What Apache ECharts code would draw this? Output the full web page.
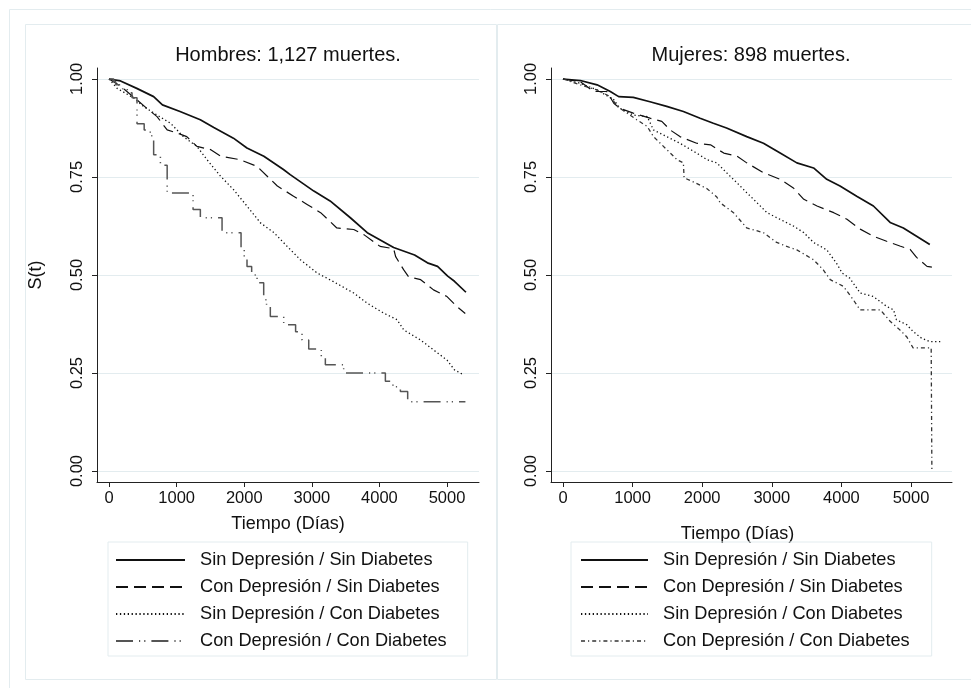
<!DOCTYPE html>
<html>
<head>
<meta charset="utf-8">
<title>Supervivencia</title>
<script src="https://cdn.jsdelivr.net/npm/echarts@6.0.0/dist/echarts.min.js"></script>
<style>
  html, body { margin: 0; padding: 0; background: #fff; }
  #chart { width: 971px; height: 688px; }
</style>
</head>
<body>
<div id="chart"></div>
<script>
// nombres de los grupos (leyenda)
const grupos = [
  'Sin Depresión / Sin Diabetes',
  'Con Depresión / Sin Diabetes',
  'Sin Depresión / Con Diabetes',
  'Con Depresión / Con Diabetes'
]
const titulos = ['Hombres: 1,127 muertes.', 'Mujeres: 898 muertes.']
const ticksX = [0, 1000, 2000, 3000, 4000, 5000]
const ticksY = [0, 0.25, 0.5, 0.75, 1]

// Hombres: [tiempo (días), S(t)]
const hombresSS = [[0,1],[170,0.995],[410,0.976],[660,0.955],[790,0.934],[1050,0.917],[1350,0.896],[1550,0.876],[1840,0.849],[2040,0.824],[2290,0.803],[2580,0.769],[2680,0.756],[3030,0.714],[3270,0.689],[3570,0.646],[3820,0.608],[4210,0.570],[4520,0.551],[4710,0.531],[4860,0.522],[5010,0.497],[5110,0.484],[5280,0.456]]
const hombresCS = [[0,1],[170,0.982],[410,0.947],[560,0.925],[710,0.904],[860,0.870],[1010,0.862],[1150,0.853],[1300,0.828],[1500,0.820],[1650,0.803],[1940,0.794],[2190,0.777],[2340,0.752],[2490,0.727],[2730,0.701],[2930,0.680],[3130,0.659],[3370,0.620],[3620,0.616],[3770,0.603],[4010,0.573],[4210,0.567],[4240,0.547],[4360,0.513],[4430,0.496],[4610,0.488],[4800,0.462],[5000,0.445],[5150,0.419],[5270,0.402]]
const hombresSC = [[0,1],[120,0.976],[370,0.951],[510,0.930],[710,0.908],[910,0.887],[1100,0.853],[1300,0.828],[1450,0.794],[1650,0.752],[1840,0.718],[2040,0.676],[2240,0.633],[2440,0.608],[2630,0.574],[2830,0.539],[3080,0.505],[3320,0.483],[3620,0.454],[3820,0.428],[4060,0.403],[4260,0.386],[4360,0.360],[4610,0.334],[4800,0.309],[5000,0.283],[5110,0.258],[5250,0.245]]
const hombresCC = [[0,1],[70,0.993],[100,0.985],[200,0.975],[270,0.965],[340,0.952],[414,0.886],[520,0.870],[610,0.855],[660,0.807],[760,0.780],[860,0.709],[1243,0.667],[1351,0.646],[1672,0.608],[1953,0.565],[2000,0.545],[2041,0.522],[2110,0.500],[2190,0.480],[2288,0.437],[2330,0.420],[2386,0.394],[2584,0.373],[2760,0.355],[2855,0.334],[2954,0.311],[3140,0.290],[3200,0.271],[3471,0.250],[4088,0.229],[4200,0.215],[4310,0.203],[4418,0.177],[5272,0.177]]

// Mujeres: [tiempo (días), S(t)]
const mujeresSS = [[0,1],[250,0.996],[490,0.985],[680,0.968],[800,0.955],[1010,0.953],[1250,0.942],[1490,0.930],[1730,0.917],[1970,0.900],[2160,0.887],[2350,0.875],[2640,0.853],[2880,0.836],[3120,0.811],[3360,0.786],[3600,0.773],[3790,0.744],[3980,0.727],[4220,0.701],[4460,0.676],[4700,0.634],[4890,0.620],[5080,0.599],[5270,0.578]]
const mujeresCS = [[0,1],[250,0.993],[440,0.968],[630,0.968],[730,0.938],[820,0.925],[1010,0.913],[1250,0.900],[1420,0.892],[1540,0.870],[1680,0.853],[1920,0.836],[2120,0.832],[2310,0.811],[2500,0.803],[2640,0.786],[2880,0.761],[3120,0.744],[3310,0.722],[3460,0.693],[3650,0.676],[3890,0.659],[4080,0.642],[4270,0.617],[4460,0.599],[4650,0.586],[4840,0.574],[4990,0.565],[5080,0.545],[5230,0.522],[5300,0.520]]
const mujeresSC = [[0,1],[250,0.989],[490,0.972],[730,0.947],[820,0.925],[1010,0.908],[1210,0.904],[1300,0.870],[1490,0.853],[1680,0.836],[1920,0.811],[2070,0.794],[2210,0.786],[2350,0.761],[2500,0.735],[2640,0.710],[2790,0.684],[2930,0.659],[3120,0.642],[3310,0.625],[3460,0.608],[3600,0.583],[3790,0.564],[3930,0.530],[4010,0.505],[4120,0.492],[4270,0.454],[4460,0.445],[4650,0.420],[4750,0.411],[4790,0.386],[4940,0.373],[5030,0.356],[5150,0.339],[5270,0.330],[5420,0.330]]
const mujeresCC = [[0,1],[250,0.985],[490,0.972],[680,0.955],[780,0.930],[920,0.913],[1060,0.896],[1210,0.879],[1300,0.853],[1490,0.820],[1640,0.794],[1730,0.786],[1740,0.748],[1880,0.737],[2070,0.720],[2210,0.699],[2260,0.684],[2450,0.659],[2640,0.620],[2880,0.608],[3070,0.583],[3260,0.570],[3360,0.564],[3600,0.539],[3740,0.513],[3840,0.488],[4030,0.471],[4170,0.437],[4270,0.411],[4560,0.411],[4700,0.382],[4840,0.360],[4940,0.342],[5030,0.314],[5290,0.314],[5300,0]]

const fuente = 'Liberation Sans, Arial, sans-serif'
const gris = '#e3ecef'
const estilos = [
  { width: 1.7, type: 'solid', color: '#111' },
  { width: 1.2, type: [12, 6], color: '#111' },
  { width: 1.3, type: [1.3, 2.6], color: '#111' },
  { width: 1.5, type: [17, 6, 1.2, 4, 1.2, 6], color: '#555' }
]
const estiloCCMujeres = { width: 1.3, type: [4, 3, 1.2, 3], color: '#333' }

const chart = echarts.init(document.getElementById('chart'))

function ejeX(i, min, max, nameGap, namePad) {
  return {
    gridIndex: i, type: 'value', min: min, max: max,
    name: 'Tiempo (Días)', nameLocation: 'middle', nameGap: nameGap,
    nameTextStyle: { fontFamily: fuente, fontSize: 18, color: '#111', padding: namePad },
    axisLine: { onZero: false, lineStyle: { color: '#222', width: 1 } },
    axisTick: { length: 5, lineStyle: { color: '#222' }, customValues: ticksX },
    axisLabel: {
      customValues: ticksX, margin: 8, fontFamily: fuente, fontSize: 16.5, color: '#111',
      formatter: v => String(v)
    },
    splitLine: { show: false }
  }
}
function ejeY(i, name) {
  return {
    gridIndex: i, type: 'value', min: -0.028, max: 1.028,
    name: name, nameLocation: 'middle', nameGap: 52, nameRotate: 90,
    nameTextStyle: { fontFamily: fuente, fontSize: 18, color: '#111' },
    axisLine: { show: true, onZero: false, lineStyle: { color: '#222', width: 1 } },
    axisTick: { show: true, length: 5, lineStyle: { color: '#222' }, customValues: ticksY },
    axisLabel: {
      customValues: ticksY, rotate: 90, margin: 11,
      fontFamily: fuente, fontSize: 16.5, color: '#111',
      formatter: v => v.toFixed(2)
    },
    splitLine: { show: true, lineStyle: { color: gris, width: 1 } }
  }
}
function serie(nombre, datos, i, estilo, step) {
  return {
    name: nombre, type: 'line', xAxisIndex: i, yAxisIndex: i,
    data: datos, symbol: 'none', step: step || false,
    lineStyle: estilo, itemStyle: { color: estilo.color },
    silent: true, animation: false
  }
}
function leyenda(left, width, pad, extra) {
  return {
    left: left, top: 542, orient: 'vertical', selectedMode: false,
    itemWidth: width, itemHeight: 14, itemGap: 7,
    padding: pad, borderColor: gris, borderWidth: 1,
    itemStyle: { opacity: 0 },
    textStyle: { fontFamily: fuente, fontSize: 18.2, color: '#111', lineHeight: 20, padding: [0, 0, 0, 10] },
    data: grupos.map((g, k) => extra && k === 3 ? { name: g, lineStyle: extra } : g)
  }
}

const option = {
  backgroundColor: '#fff',
  animation: false,
  title: [
    { text: titulos[0], left: 288, top: 45, padding: 0, textAlign: 'center',
      textStyle: { fontFamily: fuente, fontSize: 20, fontWeight: 'normal', color: '#111' } },
    { text: titulos[1], left: 751, top: 45, padding: 0, textAlign: 'center',
      textStyle: { fontFamily: fuente, fontSize: 20, fontWeight: 'normal', color: '#111' } }
  ],
  grid: [
    { left: 97, top: 68, width: 382, height: 414 },
    { left: 551, top: 68, width: 401, height: 414 }
  ],
  xAxis: [ejeX(0, -178, 5473, 33, 0), ejeX(1, -172, 5589, 43, [0, 28, 0, 0])],
  yAxis: [ejeY(0, 'S(t)'), ejeY(1, '')],
  legend: [
    leyenda(108, 69, [8, 21, 5, 7]),
    leyenda(571, 67, [8, 22, 5, 9], estiloCCMujeres)
  ],
  graphic: [
    { type: 'rect', z: -10, shape: { x: 9.5, y: 9.5, width: 1000, height: 700 }, style: { fill: null, stroke: gris, lineWidth: 1 } },
    { type: 'rect', z: -10, shape: { x: 25.5, y: 24.5, width: 471, height: 655 }, style: { fill: null, stroke: gris, lineWidth: 1 } },
    { type: 'rect', z: -10, shape: { x: 497.5, y: 24.5, width: 500, height: 655 }, style: { fill: null, stroke: gris, lineWidth: 1 } }
  ],
  series: [
    serie(grupos[0], hombresSS, 0, estilos[0]),
    serie(grupos[1], hombresCS, 0, estilos[1]),
    serie(grupos[2], hombresSC, 0, estilos[2]),
    serie(grupos[3], hombresCC, 0, estilos[3], 'end'),
    serie(grupos[0], mujeresSS, 1, estilos[0]),
    serie(grupos[1], mujeresCS, 1, estilos[1]),
    serie(grupos[2], mujeresSC, 1, estilos[2]),
    serie(grupos[3], mujeresCC, 1, estiloCCMujeres)
  ]
}

chart.setOption(option)
</script>
</body>
</html>
